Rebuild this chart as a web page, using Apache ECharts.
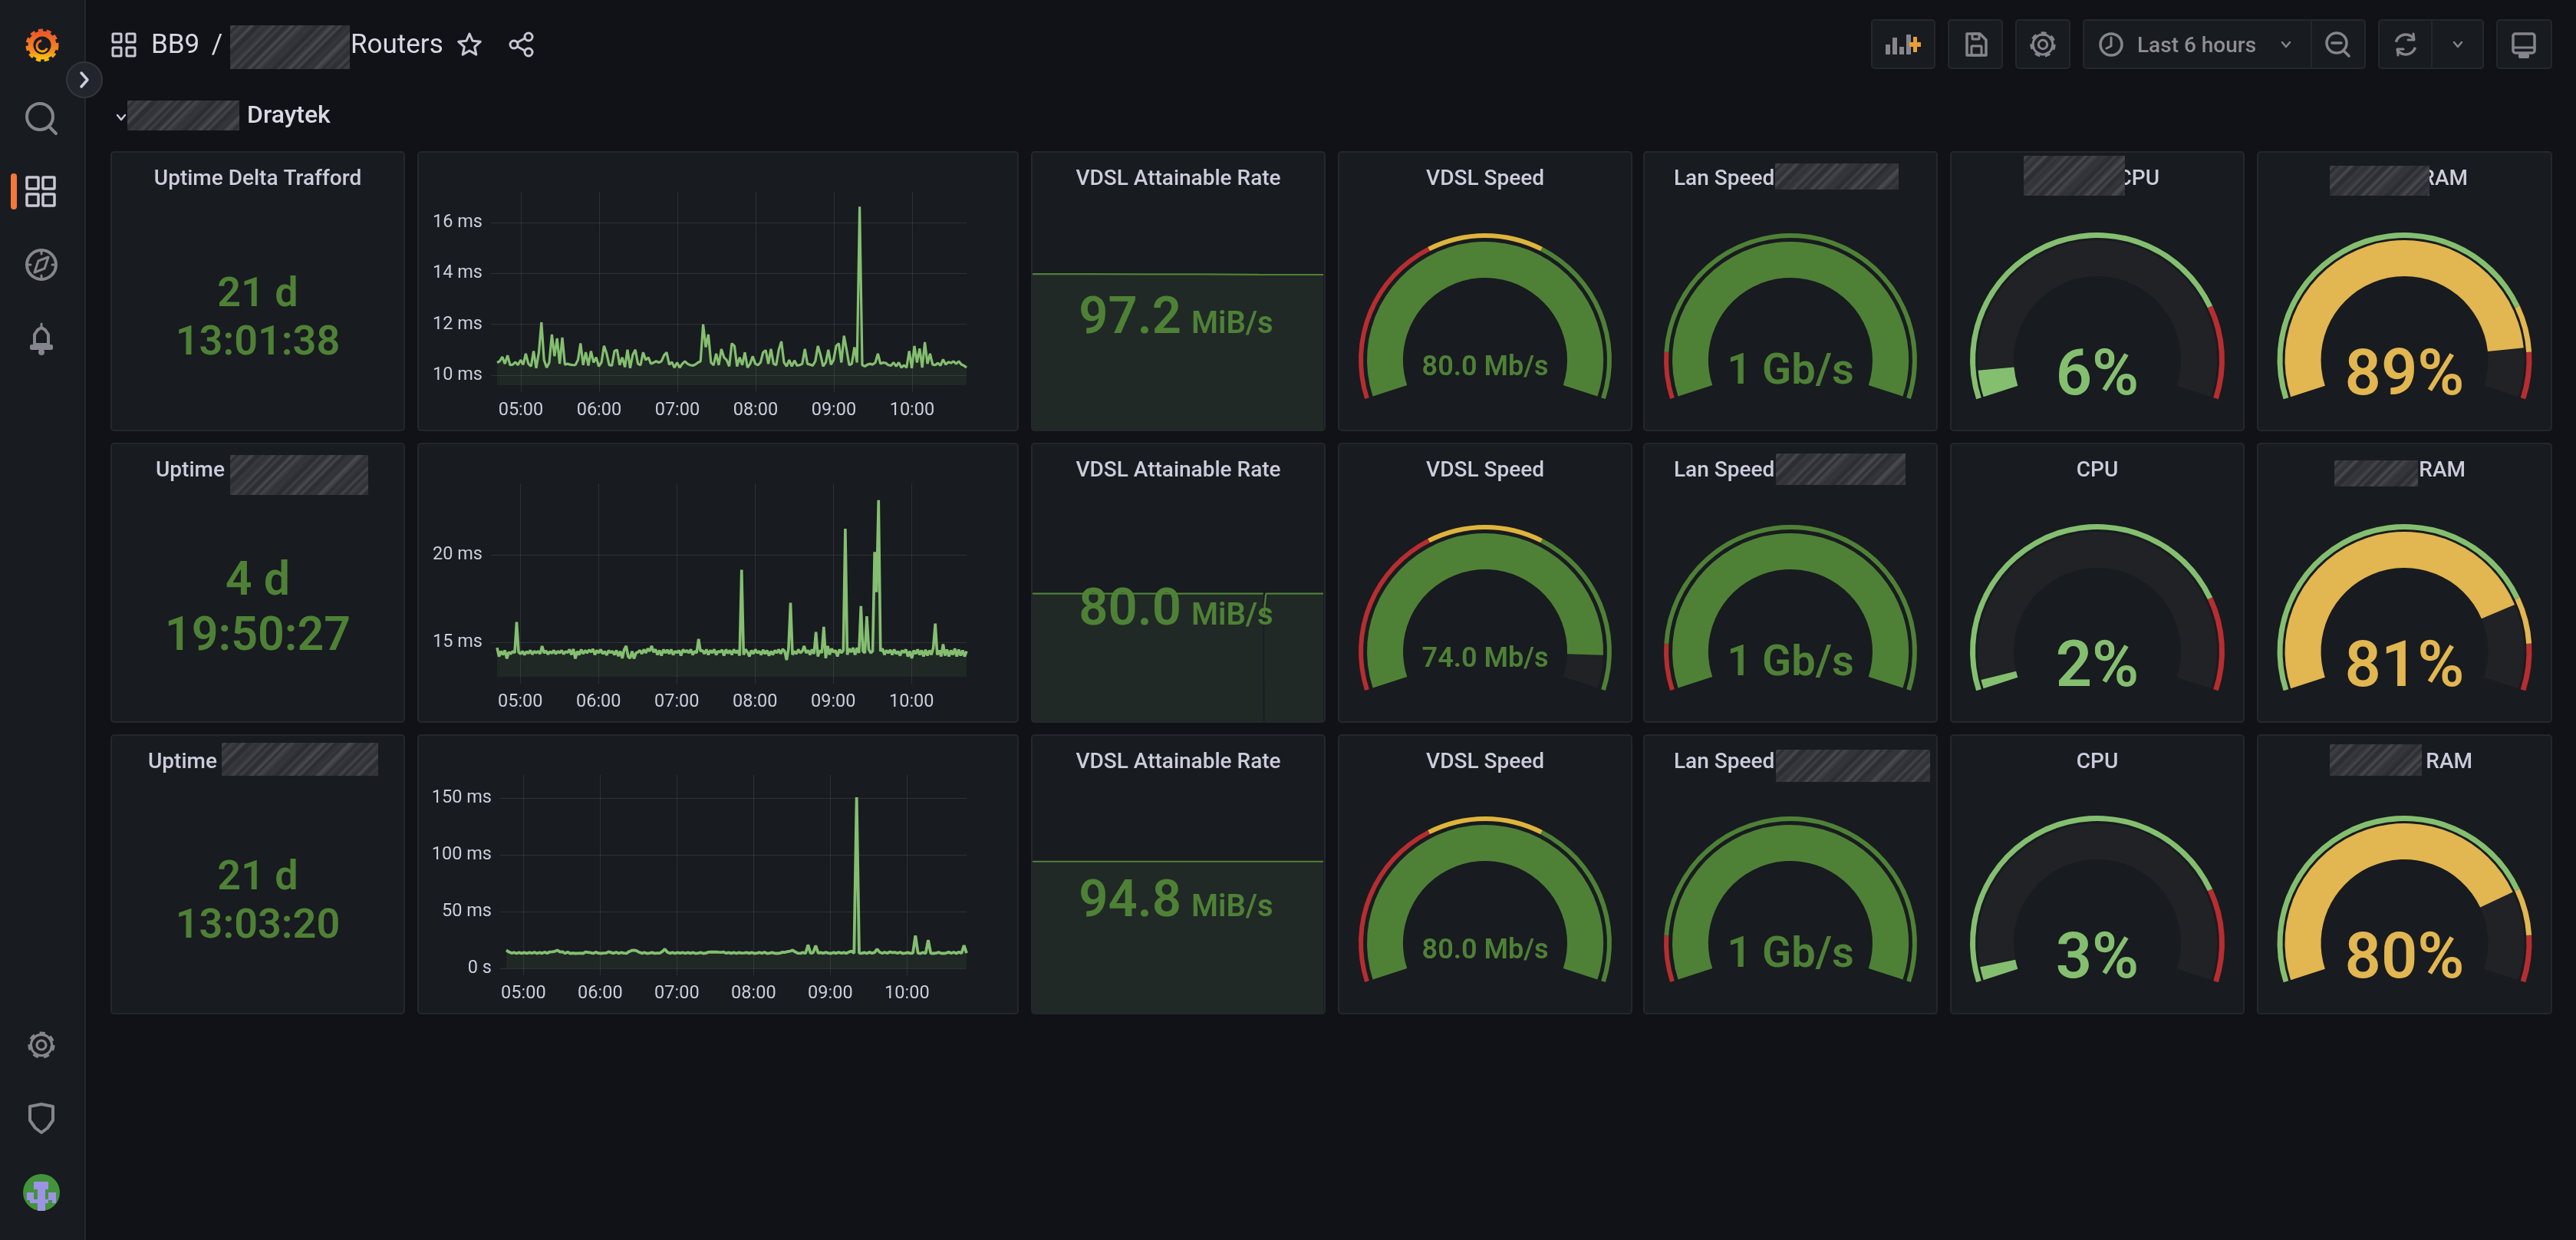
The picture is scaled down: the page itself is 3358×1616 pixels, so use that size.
<!DOCTYPE html>
<html>
<head>
<meta charset="utf-8">
<title>BB9 / Routers</title>
<style>html,body{margin:0;padding:0;background:#111217;width:100%;height:100%;overflow:hidden}#c{width:3358px;height:1616px}</style>
<script src="https://cdn.jsdelivr.net/npm/echarts@6/dist/echarts.min.js"></script>
</head>
<body>
<div id="c"></div>
<script>
// ---------- data ----------
const timeTickLabels = ['05:00','06:00','07:00','08:00','09:00','10:00'];
const pingStartMinutes = [281.8, 282.2, 286.6];

const pingTicks1 = [10,12,14,16];
const pingTicks2 = [15,20];
const pingTicks3 = [0,50,100,150];

const pingValues1 = [
10.5,10.55,10.72,10.45,10.78,10.4,10.42,10.52,10.4,10.6,
10.42,10.85,10.45,10.35,10.95,10.28,10.88,12.08,10.6,10.3,
10.5,11.6,10.75,11.45,10.45,11.48,10.42,10.45,10.42,10.4,
10.4,10.6,11.25,10.4,10.9,10.38,10.95,10.5,10.7,10.35,
10.5,11.15,10.85,10.4,10.38,10.95,11.0,10.4,10.7,10.32,
11.0,10.28,10.8,11.0,10.45,10.4,10.9,10.6,10.7,10.45,
10.5,10.55,10.5,10.55,10.78,10.9,10.42,10.52,10.3,10.5,
10.3,10.45,10.55,10.45,10.4,10.38,10.42,10.5,10.55,12.0,
11.1,11.6,10.5,10.4,10.85,10.4,11.03,10.7,10.6,10.35,
11.25,11.15,10.35,10.7,10.4,10.9,10.3,10.45,10.75,10.45,
10.4,10.5,10.9,10.98,10.45,11.03,10.45,10.4,11.0,11.33,
10.5,10.35,10.6,10.35,10.58,10.38,10.4,10.45,11.03,10.45,
10.42,10.38,10.55,11.15,10.8,10.35,10.5,11.0,10.42,10.6,
11.15,11.25,10.5,11.55,11.0,10.4,10.45,11.1,10.5,16.62,
10.4,10.35,10.42,10.45,10.42,10.5,10.85,10.45,10.5,10.48,
10.4,10.38,10.5,10.35,10.5,10.3,10.4,10.3,10.95,10.28,
11.15,10.5,11.05,10.3,11.3,10.45,10.85,10.42,10.4,10.48,
10.38,10.62,10.42,10.52,10.48,10.55,10.45,10.55,10.42,10.38,10.3];

const pingValues2 = [
14.7,14.2,14.5,14.3,14.55,14.08,14.45,14.35,14.5,14.4,16.17,14.45,14.35,14.5,14.3,14.48,14.38,14.55,14.32,14.5,
14.4,14.5,14.35,14.8,14.4,14.52,14.33,14.48,14.38,14.55,14.35,14.5,14.4,14.55,14.34,14.48,14.42,14.6,14.3,14.62,
14.08,14.5,14.3,14.6,14.35,14.55,14.4,14.58,14.45,14.62,14.3,14.55,14.4,14.6,14.35,14.5,14.28,14.55,14.42,14.5,
14.3,14.55,14.22,14.5,14.1,14.6,14.8,14.2,14.1,14.5,14.08,14.4,14.45,14.55,14.35,14.6,14.4,14.65,14.5,14.8,
14.45,14.6,14.3,14.55,14.25,14.6,14.4,14.58,14.35,14.6,14.3,14.5,14.42,14.55,14.25,14.6,14.45,14.55,14.4,14.6,
14.3,14.5,14.4,15.2,14.5,14.55,14.35,14.6,14.3,14.55,14.4,14.6,14.3,14.5,14.45,14.58,14.25,14.6,14.38,14.55,
14.3,14.6,14.4,14.55,14.25,19.15,14.3,14.6,14.45,14.2,14.55,14.35,14.6,14.4,14.5,14.3,14.58,14.35,14.55,14.25,
14.5,14.3,14.55,14.4,14.6,14.35,14.62,14.5,14.0,14.65,17.27,14.3,14.5,14.35,14.6,14.4,14.5,14.8,14.4,14.55,
14.3,14.6,14.35,15.6,14.2,14.55,14.4,15.9,14.1,14.8,14.3,14.65,14.45,14.55,14.2,14.6,14.4,14.55,21.5,14.3,
14.65,14.45,14.7,14.3,14.7,14.4,17.08,14.5,14.4,16.5,14.6,14.4,14.5,20.17,17.88,23.14,14.5,14.65,14.3,14.55,
14.4,14.58,14.3,14.6,14.35,14.5,14.25,14.55,14.42,14.6,14.2,14.5,14.1,14.55,14.35,14.6,14.3,14.55,14.2,14.58,
14.25,14.55,14.3,14.7,16.08,14.3,14.55,14.2,14.9,14.25,14.6,14.2,14.55,14.3,14.65,14.2,14.6,14.25,14.55,14.2,14.5];

const pingValues3 = [
16,14.5,13.5,14,13.2,14,13.3,14,13.2,14,
13.4,14.2,13.2,14,13.3,14.3,13.4,14.5,14.7,15,
16,14.5,14.6,13.3,14.4,13.2,13.5,13.2,13.3,13.4,
13.2,14.5,14.2,13.8,13.2,14.3,13.4,13.2,13.4,13.6,
14.6,14,13.3,14.3,13.2,14,13.4,13.3,14.8,15.8,
16,15.5,14.2,13.3,14,13.2,13.5,14,13.3,13.4,
13.5,14.8,17,14.2,13.3,14,13.2,14,13.4,14,
13.2,14,13.3,14,13.2,13.4,14,13.2,13.4,14.3,
14.5,14.4,14.5,14.3,14.2,14.4,13.4,14,13.3,14,
13.2,14,13.4,13.6,14,13.3,14,13.2,13.4,14.1,
13.3,14.2,13.2,13.4,14,13.3,13.2,13.4,14.3,14.2,
14.8,15.2,16,14.5,13.4,13.3,14,13.2,20.7,13.3,
14,20,13.4,14,13.3,14.2,13.4,13.2,14,13.3,
14.2,13.4,14,13.3,14.5,15.2,13.4,151,13.5,13.3,
14,13.2,14.3,13.4,14,17,14.3,13.3,14.2,13.4,
14.5,14,14.2,13.3,14.3,13.2,13.4,14,13.3,13.5,
29,13.4,13.2,14,13.3,25,13.3,13.2,13.4,14.2,
13.3,13.2,13.5,14.4,13.3,14.3,13.2,14.5,13.3,20.2,13.5];

const rateMinutes1 = [0,70,140,210,280,360];
const rateValues1 = [97.5,97.5,97.4,97.4,97.2,97.1];
const rateMinutes2 = [0,70,140,210,285.6,286.1,286.9,287.3,289,360];
const rateValues2 = [80,80,80,80,80,null,65,72,80,80];
const rateMinutes3 = [0,90,180,270,360];
const rateValues3 = [94.8,94.8,94.8,94.8,94.8];

const uptimeDays = ['21 d','4 d','21 d'];
const uptimeClock = ['13:01:38','19:50:27','13:03:20'];
const rateLabels = ['97.2','80.0','94.8'];
const rateUnit = 'MiB/s';

const vdslValues = [80,74,80];
const vdslLabels = ['80.0 Mb/s','74.0 Mb/s','80.0 Mb/s'];
const vdslThresholds = [30,50];
const lanValues = [1,1,1];
const lanLabels = ['1 Gb/s','1 Gb/s','1 Gb/s'];
const lanThresholds = [0.1];
const cpuValues = [6,2,3];
const cpuThresholds = [80];
const ramValues = [89,81,80];
const ramThresholds = [80,90];

// ---------- styling ----------
const FONT = 'Roboto, "Noto Sans", sans-serif';
const BG = '#111217', PANEL = '#181b1f', EDGE = '#24272c', TITLE = '#ccccdc', ICON = '#85858d';
const LINE = '#84bf70', DARK = '#4e8136', RED = '#b72d30', YEL = '#deb43c', AMBER = '#e2b650', TRACK = '#202226';
const GRIDC = 'rgba(204,204,220,0.12)';

const rowTops = [198,578,958];
const panelH = 363;
const cols = [[145,527],[545,1327],[1345,1727],[1745,2127],[2143,2525],[2543,2925],[2943,3326]];

const g = [];  // graphic elements
const txt = (text,x,y,size,color,opt={}) => g.push({type:'text',x,y:y+2,z:opt.z==null?60:opt.z,silent:true,style:{text,fill:color,font:`${opt.w||500} ${size}px ${FONT}`,textAlign:opt.a||'center',textVerticalAlign:'middle'}});
const rect = (x,y,w,h,fill,stroke,r,lw,z) => g.push({type:'rect',z:z==null?-10:z,silent:true,shape:{x,y,width:w,height:h,r:r||0},style:{fill:fill||'none',stroke:stroke||'none',lineWidth:lw||2}});
const circ = (cx,cy,r,fill,stroke,lw,dash,z) => g.push({type:'circle',z:z==null?5:z,silent:true,shape:{cx,cy,r},style:{fill:fill||'none',stroke:stroke||'none',lineWidth:lw||3,lineDash:dash||null}});
const poly = (pts,stroke,lw,z) => g.push({type:'polyline',z:z==null?5:z,silent:true,shape:{points:pts},style:{fill:'none',stroke,lineWidth:lw||3,lineCap:'round',lineJoin:'round'}});
const pgon = (pts,fill,stroke,lw) => g.push({type:'polygon',z:5,silent:true,shape:{points:pts},style:{fill:fill||'none',stroke:stroke||'none',lineWidth:lw||3,lineJoin:'round'}});
const arc = (cx,cy,r,a0,a1,stroke,lw) => g.push({type:'arc',z:5,silent:true,shape:{cx,cy,r,startAngle:a0,endAngle:a1},style:{fill:'none',stroke,lineWidth:lw||3}});

function smudge(x,y,w,h){
  const pal = ['#2c2e33','#3e4046','#303237','#4a4c52','#292b2f','#383a3f','#2f3136','#44464c','#2b2d31','#35373c'];
  const stops = [];
  const n = Math.max(24,Math.round(w/2.4));
  for(let i=0;i<=n;i++) stops.push({offset:i/n,color:pal[(i*7+(i>>2))%pal.length]});
  g.push({type:'rect',z:70,silent:true,shape:{x,y,width:w,height:h},style:{fill:{type:'linear',x:0,y:0,x2:1,y2:w/h,colorStops:stops}}});
}
function gear(cx,cy,r,c){
  circ(cx,cy,r*0.74,'none',c,r*0.28,[r*0.34,r*0.33]);
  circ(cx,cy,r*0.68,'none',c,r*0.16);
  circ(cx,cy,r*0.3,'none',c,r*0.16);
}

// ---- page chrome ----
rect(0,0,110,1616,PANEL,null,0,0,-20);
rect(110,0,2,1616,EDGE,null,0,0,-19);
// logo
const logoGrad = {type:'linear',x:0,y:0,x2:0,y2:1,colorStops:[{offset:0,color:'#ea5528'},{offset:0.7,color:'#f48a20'},{offset:1,color:'#fbc80d'}]};
circ(55,59,19,'none',logoGrad,5,[6,4.5]);
circ(55,59,15,'none',logoGrad,7);
arc(55,60,7,0.4,4.6,logoGrad,3);
// sidebar icons
circ(52,152,17,'none',ICON,4); poly([[64,165],[73,174]],ICON,4);
g.push({type:'rect',z:5,silent:true,shape:{x:14,y:226,width:8,height:47,r:4},style:{fill:'#f2793a'}});
[[35,231],[56,231],[35,253],[56,253]].forEach(p=>rect(p[0],p[1],15,15,'none','#c8c8d4',1,3.5,5));
circ(54,345,19,'none',ICON,4); pgon([[63,335],[58,350],[45,355],[50,340]],'none',ICON,3);
poly([[54,326],[54,331]],ICON,3); poly([[54,359],[54,364]],ICON,3); poly([[35,345],[40,345]],ICON,3); poly([[68,345],[73,345]],ICON,3);
pgon([[45,449],[45,436],[49,430],[54,427],[59,430],[63,436],[63,449]],'none',ICON,4);
rect(39,449,30,7,ICON,null,2,0,5); circ(54,459,4,ICON,null,0); poly([[54,422],[54,427]],ICON,3);
gear(54,1362,20,ICON);
pgon([[39,1442],[54,1439],[69,1442],[69,1460],[62,1470],[54,1476],[46,1470],[39,1460]],'none',ICON,4);
circ(54,1554,24,'#43933a',null,0);
[[44,1540,19,10],[49,1550,10,28],[35,1554,9,10],[63,1554,10,10],[39,1563,5,5],[68,1563,5,5],[44,1563,19,5]].forEach(b=>rect(b[0],b[1],b[2],b[3],'#9d93e6',null,0,0,6));
circ(110,104,23,'#22252b','#33363c',2,null,8); poly([[106,95],[114,104],[106,113]],'#ccccdc',3.5,9);
// breadcrumb
[[147,44],[165,44],[147,62],[165,62]].forEach(p=>rect(p[0],p[1],11,11,'none','#c8c8d4',1,3,5));
txt('BB9',197,58,35,'#d8d8e2',{a:'left',w:400});
txt('/',283,58,35,'#d8d8e2',{a:'center',w:400});
smudge(300,33,156,57);
txt('Routers',457,58,35,'#d8d8e2',{a:'left',w:400});
{const star=[];for(let i=0;i<10;i++){const r=i%2?7:15,a=-Math.PI/2+i*Math.PI/5;star.push([612+r*Math.cos(a),59+r*Math.sin(a)]);}pgon(star,'none','#c8c8d4',3);}
circ(689,48,5,'none','#c8c8d4',3);circ(670,58,5,'none','#c8c8d4',3);circ(689,68,5,'none','#c8c8d4',3);
poly([[675,55],[684,50]],'#c8c8d4',3);poly([[675,61],[684,66]],'#c8c8d4',3);
// row header
poly([[153,150],[158,156],[163,150]],'#c8c8d4',2.5);
smudge(166,131,146,39);
txt('Draytek',322,150,32,'#d8d8e2',{a:'left'});
// toolbar
[[2440,82],[2540,70],[2628,70],[2716,367],[3101,136],[3255,71]].forEach(b=>rect(b[0],26,b[1],63,PANEL,EDGE,4,2,-8));
rect(3012,27,2,61,EDGE,null,0,0,-7); rect(3169,27,2,61,EDGE,null,0,0,-7);
[[2458,58,6,13],[2467,49,6,22],[2476,61,6,10],[2485,45,6,26]].forEach(b=>rect(b[0],b[1],b[2],b[3],ICON,null,0,0,5));
rect(2489,55,15,6,'#eb9d33',null,0,0,6);rect(2494,48,5,20,'#eb9d33',null,0,0,6);
pgon([[2564,44],[2581,44],[2589,52],[2589,72],[2564,72]],'none',ICON,3.5); rect(2570,60,13,12,'none',ICON,1,3,5); rect(2571,44,9,7,'none',ICON,1,3,5);
gear(2663,58,19,ICON);
circ(2752,58,14,'none',ICON,3.5); poly([[2752,49],[2752,60],[2746,63]],ICON,3);
txt('Last 6 hours',2786,59,28,'#8e8e95',{a:'left'});
poly([[2975,55],[2980,61],[2985,55]],ICON,2.5);
circ(3046,56,13,'none',ICON,3.5); poly([[3040,56],[3052,56]],ICON,3.5); poly([[3055,66],[3062,73]],ICON,3.5);
arc(3136,58,13,3.4,5.7,ICON,3.5); arc(3136,58,13,0.3,2.6,ICON,3.5);
poly([[3146,44],[3147,52],[3139,52]],ICON,3); poly([[3126,72],[3125,64],[3133,64]],ICON,3);
poly([[3199,55],[3204,61],[3209,55]],ICON,2.5);
rect(3276,44,28,25,'none',ICON,3,3.5,5); rect(3283,70,14,6,ICON,null,2,0,5); poly([[3276,62],[3304,62]],ICON,3);

// ---- panels ----
rowTops.forEach(t=>cols.forEach(c=>rect(c[0],t,c[1]-c[0],panelH,PANEL,EDGE,4,2,-10)));

const titleRows = [
  [['Uptime Delta Trafford',336,'center'],['VDSL Attainable Rate',1536,'center'],['VDSL Speed',1936,'center'],['Lan Speed',2182,'left'],['CPU',2815,'right'],['RAM',3217,'right']],
  [['Uptime',203,'left'],['VDSL Attainable Rate',1536,'center'],['VDSL Speed',1936,'center'],['Lan Speed',2182,'left'],['CPU',2734,'center'],['RAM',3214,'right']],
  [['Uptime',193,'left'],['VDSL Attainable Rate',1536,'center'],['VDSL Speed',1936,'center'],['Lan Speed',2182,'left'],['CPU',2734,'center'],['RAM',3223,'right']]
];
titleRows.forEach((r,i)=>r.forEach(t=>txt(t[0],t[1],rowTops[i]+34,28,TITLE,{a:t[2]})));
[[2314,213,161,34],[2638,203,132,52],[3037,216,130,39],
 [300,593,180,52],[2315,591,169,41],[3043,600,109,34],
 [289,968,204,43],[2315,977,201,42],[3037,970,120,41]].forEach(p=>smudge(p[0],p[1],p[2],p[3]));

// uptime stats
const upSize = [54,61,54];
const upY = [[383,446],[758,830],[1143,1206]];
rowTops.forEach((t,i)=>{
  txt(uptimeDays[i],336,upY[i][0],upSize[i],DARK,{w:600});
  txt(uptimeClock[i],336,upY[i][1],upSize[i],DARK,{w:600});
  txt(rateLabels[i],1540,t+217,67,DARK,{a:'right',w:600});
  txt(rateUnit,1553,t+224,40,DARK,{a:'left',w:600});
});

// ---------- chart ----------
// x axes are value axes holding minutes since midnight
const timeTicks = timeTickLabels.map(s=>+s.slice(0,2)*60 + +s.slice(3));
const pingGrids = [
 {left:648,right:1260,top:250,bottom:502,min:9.61,max:17.2,ticks:pingTicks1,vals:pingValues1,w:3.2},
 {left:648,right:1260,top:630,bottom:882,min:13.04,max:24.09,ticks:pingTicks2,vals:pingValues2,w:3.6},
 {left:660,right:1260,top:1010,bottom:1262,min:0,max:170.6,ticks:pingTicks3,vals:pingValues3,w:3.8}
];
const grid=[],xAxis=[],yAxis=[],series=[];
const axisFont = {color:TITLE,fontFamily:FONT,fontSize:23.5};
pingGrids.forEach((p,i)=>{
  grid.push({left:p.left,top:p.top,width:p.right-p.left,height:p.bottom-p.top});
  const start = pingStartMinutes[i];
  xAxis.push({type:'value',gridIndex:i,min:start,max:start+360,
    axisLine:{show:false},
    axisTick:{show:true,customValues:timeTicks,length:9,lineStyle:{color:GRIDC}},
    splitLine:{show:true,lineStyle:{color:GRIDC,width:1}},
    axisLabel:{show:true,customValues:timeTicks,margin:21,hideOverlap:false,...axisFont,
      formatter:v=>timeTickLabels[timeTicks.indexOf(+v)]||''}});
  yAxis.push({type:'value',gridIndex:i,min:p.min,max:p.max,
    axisLine:{show:false},
    axisTick:{show:true,customValues:p.ticks,length:8,lineStyle:{color:GRIDC}},
    splitLine:{show:true,lineStyle:{color:GRIDC,width:1}},
    axisLabel:{show:true,customValues:p.ticks,margin:19,padding:[4,0,0,0],...axisFont,
      formatter:v=>(v===0?'0 s':v+' ms')}});
  const step = 360/(p.vals.length-1);
  series.push({type:'line',xAxisIndex:i,yAxisIndex:i,showSymbol:false,symbol:'none',
    data:p.vals.map((v,k)=>[start+k*step,v]),
    lineStyle:{color:LINE,width:p.w},itemStyle:{color:LINE},
    areaStyle:{origin:'start',color:'rgba(115,191,105,0.12)'},z:3});
});
[[rateMinutes1,rateValues1],[rateMinutes2,rateValues2],[rateMinutes3,rateValues3]].forEach((r,i)=>{
  const k=i+3;
  grid.push({left:1346,top:rowTops[i],width:379,height:panelH-1});
  xAxis.push({type:'value',gridIndex:k,min:0,max:360,show:false});
  yAxis.push({type:'value',gridIndex:k,min:0,max:174,show:false});
  series.push({type:'line',xAxisIndex:k,yAxisIndex:k,showSymbol:false,symbol:'none',connectNulls:false,
    data:r[0].map((m,j)=>[m,r[1][j]]),
    lineStyle:{color:DARK,width:2.2},itemStyle:{color:DARK},
    areaStyle:{origin:'start',color:'rgba(85,130,85,0.2)'},z:3});
});

function bands(thresholds,max,colors){
  const out = thresholds.map((t,i)=>[t/max,colors[i]]);
  out.push([1,colors[thresholds.length]]);
  return out;
}
function gauge(cx,cy,max,value,thresholds,colors,barColor,label,labelColor,labelSize,labelDy,outerR,bandW,innerR){
  const common = {type:'gauge',center:[cx,cy],startAngle:198,endAngle:-18,min:0,max,
    axisTick:{show:false},splitLine:{show:false},axisLabel:{show:false},pointer:{show:false},title:{show:false},animation:false,silent:true};
  series.push({...common,radius:outerR,
    axisLine:{lineStyle:{width:bandW,color:bands(thresholds,max,colors)}},
    detail:{show:false},data:[{value}]});
  series.push({...common,radius:innerR,
    axisLine:{lineStyle:{width:47,color:[[1,TRACK]]}},
    progress:{show:true,width:47,itemStyle:{color:barColor}},
    detail:{show:true,valueAnimation:false,offsetCenter:[0,labelDy],color:labelColor,fontFamily:FONT,fontSize:labelSize,fontWeight:600,formatter:()=>label},
    data:[{value}]});
}
rowTops.forEach((t,i)=>{
  const cy=t+271;
  gauge(1936,cy,80,vdslValues[i],vdslThresholds,[RED,YEL,DARK],DARK,vdslLabels[i],DARK,36,11,165,6,154);
  gauge(2334,cy,1,lanValues[i],lanThresholds,[RED,DARK],DARK,lanLabels[i],DARK,56,17,165,6,154);
  gauge(2734,cy,100,cpuValues[i],cpuThresholds,[LINE,RED],LINE,cpuValues[i]+'%',LINE,83,24,166,7,156);
  gauge(3134.5,cy,100,ramValues[i],ramThresholds,[LINE,AMBER,RED],AMBER,ramValues[i]+'%',AMBER,83,24,166,7,156);
});

const chart = echarts.init(document.getElementById('c'),null,{width:3358,height:1616});
chart.setOption({backgroundColor:BG,animation:false,grid,xAxis,yAxis,series,graphic:{elements:g}});
</script>
</body>
</html>
